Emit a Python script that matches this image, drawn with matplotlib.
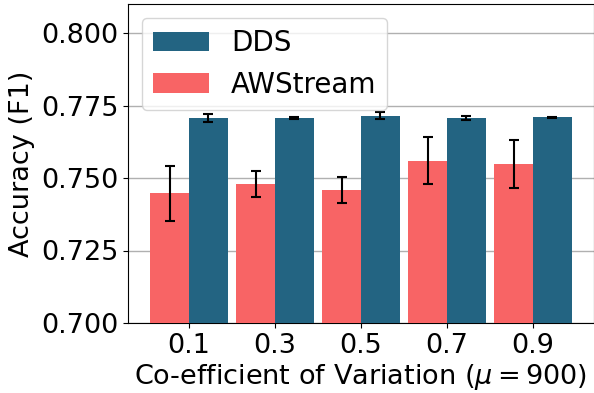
import matplotlib
matplotlib.use("Agg")
import matplotlib.pyplot as plt
import numpy as np

categories = ["0.1", "0.3", "0.5", "0.7", "0.9"]
dds_vals = [0.7707, 0.7707, 0.7714, 0.7707, 0.7710]
dds_err = [0.0015, 0.0003, 0.0012, 0.0006, 0.0002]
aws_vals = [0.7448, 0.7479, 0.7459, 0.7559, 0.7548]
aws_err = [0.0095, 0.0044, 0.0044, 0.0081, 0.0083]

fig = plt.figure(figsize=(5.94, 3.93), dpi=100)
ax = fig.add_axes([128/594, 1-323/393, 1-128/594, (323-4)/393])

x = np.arange(len(categories))
w = 0.45
ax.bar(x + w/2, dds_vals, w, yerr=dds_err, color="#236482", label="DDS",
       capsize=3.5, error_kw=dict(elinewidth=1.5, capthick=1.5, ecolor="black"), zorder=3)
ax.bar(x - w/2, aws_vals, w, yerr=aws_err, color="#f86465", label="AWStream",
       capsize=3.5, error_kw=dict(elinewidth=1.5, capthick=1.5, ecolor="black"), zorder=3)

ax.set_ylim(0.7, 0.81)
ax.set_xlim(-0.71, 4.71)
ax.set_yticks([0.7, 0.725, 0.75, 0.775, 0.8])
ax.set_yticklabels(["0.700", "0.725", "0.750", "0.775", "0.800"])
ax.set_xticks(x)
ax.set_xticklabels(categories)
ax.tick_params(labelsize=19.5)
ax.yaxis.grid(True, color="#b0b0b0", linewidth=1, zorder=0)
ax.set_axisbelow(True)
ax.set_xlabel(r"Co-efficient of Variation ($\mu = 900$)", fontsize=19.5, labelpad=2)
ax.set_ylabel("Accuracy (F1)", fontsize=19.5)
ax.legend(loc="upper left", fontsize=20)

fig.savefig("out.png", dpi=100)
